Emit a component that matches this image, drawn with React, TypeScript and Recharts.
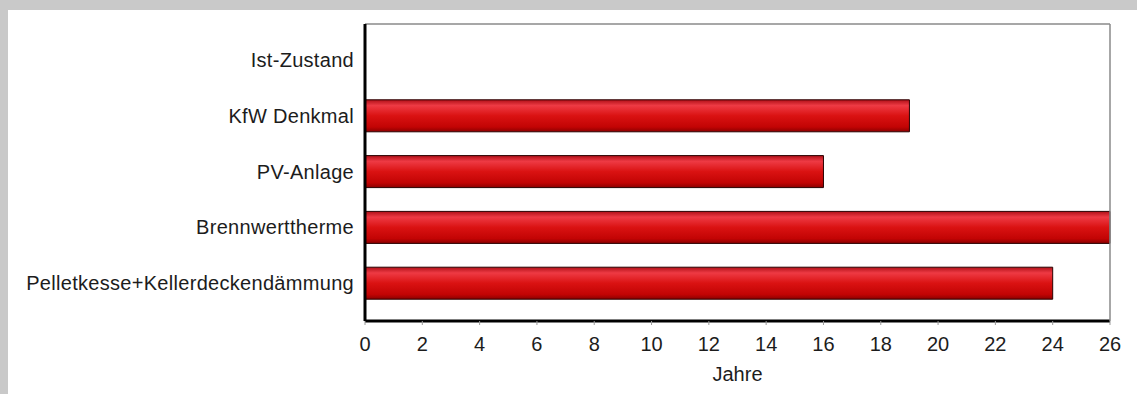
import React from 'react'
import { BarChart, Bar, XAxis, YAxis, Label } from 'recharts'

const CATEGORIES = [
  'Ist-Zustand',
  'KfW Denkmal',
  'PV-Anlage',
  'Brennwerttherme',
  'Pelletkesse+Kellerdeckendämmung',
]
const YEARS = [0, 19, 16, 26, 24]
const X_TICKS = [0, 2, 4, 6, 8, 10, 12, 14, 16, 18, 20, 22, 24, 26]

const data = CATEGORIES.map((name, i) => ({ name, jahre: YEARS[i] }))

const FONT = '"Liberation Sans", Arial, sans-serif'
const TEXT = '#1c1c1c'

export default function App() {
  return (
    <div
      style={{
        position: 'fixed',
        left: 0,
        top: 0,
        width: 1137,
        height: 394,
        background: '#c9c9c9',
        fontFamily: FONT,
      }}
    >
      <div
        style={{
          position: 'absolute',
          left: 8,
          top: 10,
          right: 0,
          bottom: 0,
          background: '#ffffff',
        }}
      />
      <div style={{ position: 'absolute', left: 0, top: 0 }}>
        <BarChart
          width={1137}
          height={394}
          data={data}
          layout="vertical"
          margin={{ top: 23, right: 26, bottom: 33, left: 0 }}
          barSize={32}
        >
          <defs>
            <linearGradient id="redBar" x1="0" y1="0" x2="0" y2="1">
              <stop offset="0%" stopColor="#b01018" />
              <stop offset="18%" stopColor="#ee3a44" />
              <stop offset="50%" stopColor="#da1212" />
              <stop offset="85%" stopColor="#c20404" />
              <stop offset="100%" stopColor="#8c0000" />
            </linearGradient>
          </defs>
          <XAxis
            type="number"
            domain={[0, 26]}
            ticks={X_TICKS}
            interval={0}
            height={40}
            axisLine={{ stroke: '#000', strokeWidth: 3 }}
            tickLine={{ stroke: '#999' }}
            tickSize={4}
            tickMargin={12}
            tick={{ fontSize: 20, fill: TEXT, fontFamily: FONT }}
          >
            <Label
              value="Jahre"
              position="bottom"
              offset={6}
              style={{ fontSize: 20, fill: TEXT, fontFamily: FONT }}
            />
          </XAxis>
          <XAxis
            xAxisId="top"
            orientation="top"
            type="number"
            domain={[0, 26]}
            height={1}
            tick={false}
            tickLine={false}
            axisLine={{ stroke: '#8a8a8a', strokeWidth: 1.5 }}
          />
          <YAxis
            type="category"
            dataKey="name"
            width={365}
            padding={{ top: 8, bottom: 10 }}
            axisLine={{ stroke: '#000', strokeWidth: 3 }}
            tickLine={false}
            tickMargin={5}
            interval={0}
            tick={{ fontSize: 20, fill: TEXT, fontFamily: FONT, letterSpacing: 0.3 }}
          />
          <YAxis
            yAxisId="right"
            orientation="right"
            type="category"
            dataKey="name"
            width={1}
            tick={false}
            tickLine={false}
            axisLine={{ stroke: '#8a8a8a', strokeWidth: 1.5 }}
          />
          <Bar
            dataKey="jahre"
            fill="url(#redBar)"
            stroke="#2a0000"
            strokeWidth={1}
            isAnimationActive={false}
          />
        </BarChart>
      </div>
    </div>
  )
}
